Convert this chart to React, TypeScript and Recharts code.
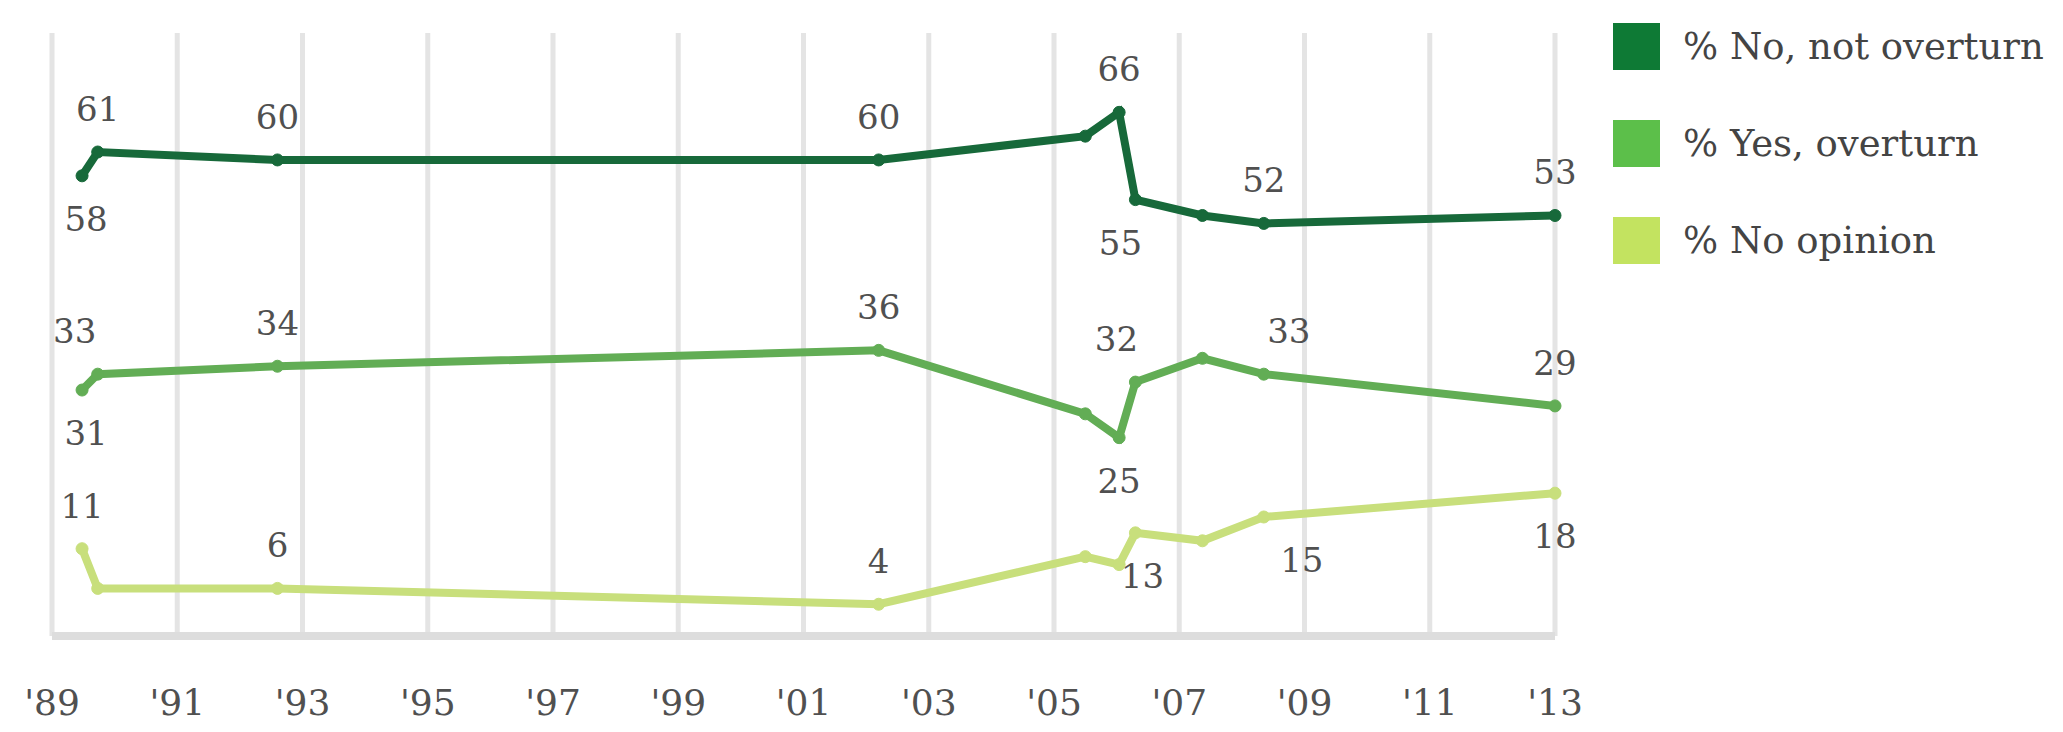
import React from "react";
import { LineChart, Line, XAxis, YAxis, CartesianGrid, LabelList } from "recharts";

// Survey dates (decimal years)
const dates = [1989.48, 1989.73, 1992.6, 2002.2, 2005.5, 2006.04, 2006.3, 2007.37, 2008.35, 2013.0];
const noOverturn = [58, 61, 60, 60, 63, 66, 55, 53, 52, 53];
const yesOverturn = [31, 33, 34, 36, 28, 25, 32, 35, 33, 29];
const noOpinion = [11, 6, 6, 4, 10, 9, 13, 12, 15, 18];

const yearTicks = [1989, 1991, 1993, 1995, 1997, 1999, 2001, 2003, 2005, 2007, 2009, 2011, 2013];
const seriesNames = ["% No, not overturn", "% Yes, overturn", "% No opinion"];

const data = dates.map((d, i) => ({
  date: d,
  no: noOverturn[i],
  yes: yesOverturn[i],
  op: noOpinion[i],
}));

const LINE_COLORS = ["#17693a", "#62ad55", "#c8df7c"];
const SWATCH_COLORS = ["#0e7a35", "#5cbf4a", "#c3e360"];
const FONT = "'DejaVu Serif', serif";
const TEXT = "#505050";

type LabelCfg = { pos: "above" | "below"; dx?: number };
const noLabels: Record<number, LabelCfg> = {
  0: { pos: "below", dx: 4 },
  1: { pos: "above" },
  2: { pos: "above" },
  3: { pos: "above" },
  5: { pos: "above" },
  6: { pos: "below", dx: -15 },
  8: { pos: "above" },
  9: { pos: "above" },
};
const yesLabels: Record<number, LabelCfg> = {
  0: { pos: "below", dx: 4 },
  1: { pos: "above", dx: -23 },
  2: { pos: "above" },
  3: { pos: "above" },
  5: { pos: "below" },
  6: { pos: "above", dx: -19 },
  8: { pos: "above", dx: 25 },
  9: { pos: "above" },
};
const opLabels: Record<number, LabelCfg> = {
  0: { pos: "above" },
  2: { pos: "above" },
  3: { pos: "above" },
  6: { pos: "below", dx: 7 },
  8: { pos: "below", dx: 38 },
  9: { pos: "below" },
};

const makeLabel = (cfg: Record<number, LabelCfg>) => (props: any) => {
  const { x, y, index, value } = props;
  const c = cfg[index];
  if (!c) return null;
  const off = c.pos === "above" ? -43 : 43;
  return (
    <text
      x={x + (c.dx || 0)}
      y={y + off}
      textAnchor="middle"
      dominantBaseline="central"
      fontFamily={FONT}
      fontSize={34}
      fill={TEXT}
    >
      {value}
    </text>
  );
};

const fmtYear = (v: number) => "'" + String(v).slice(2);

const Tick = (props: any) => {
  const { x, y, payload } = props;
  return (
    <text x={x} y={y + 71} textAnchor="middle" fontFamily={FONT} fontSize={36} fill={TEXT}>
      {fmtYear(payload.value)}
    </text>
  );
};

export default function App() {
  const keys = ["no", "yes", "op"];
  const cfgs = [noLabels, yesLabels, opLabels];
  return (
    <div style={{ position: "absolute", left: 0, top: 0, width: 2063, height: 732, background: "#fff" }}>
      <LineChart
        width={2063}
        height={732}
        data={data}
        margin={{ top: 33, right: 508, left: 52, bottom: 0 }}
      >
        <CartesianGrid horizontal={false} stroke="#e4e4e4" strokeWidth={5} />
        <XAxis
          dataKey="date"
          type="number"
          domain={[1989, 2013]}
          ticks={yearTicks}
          interval={0}
          height={96}
          tickLine={false}
          axisLine={{ stroke: "#dddddd", strokeWidth: 8 }}
          tick={<Tick />}
        />
        <YAxis hide domain={[0, 76]} type="number" />
        {keys.map((k, i) => (
          <Line
            key={k}
            type="linear"
            dataKey={k}
            name={seriesNames[i]}
            stroke={LINE_COLORS[i]}
            strokeWidth={8}
            dot={{ r: 6, fill: LINE_COLORS[i], stroke: LINE_COLORS[i], strokeWidth: 1 }}
            isAnimationActive={false}
          >
            <LabelList dataKey={k} content={makeLabel(cfgs[i])} />
          </Line>
        ))}
      </LineChart>
      <div style={{ position: "absolute", left: 1613, top: 0 }}>
        {seriesNames.map((n, i) => (
          <div
            key={n}
            style={{
              position: "absolute",
              left: 0,
              top: 23 + i * 97,
              height: 47,
              display: "flex",
              alignItems: "center",
              whiteSpace: "nowrap",
            }}
          >
            <div style={{ width: 47, height: 47, background: SWATCH_COLORS[i] }} />
            <span style={{ marginLeft: 23, fontFamily: FONT, fontSize: 37, color: "#444" }}>{n}</span>
          </div>
        ))}
      </div>
    </div>
  );
}
